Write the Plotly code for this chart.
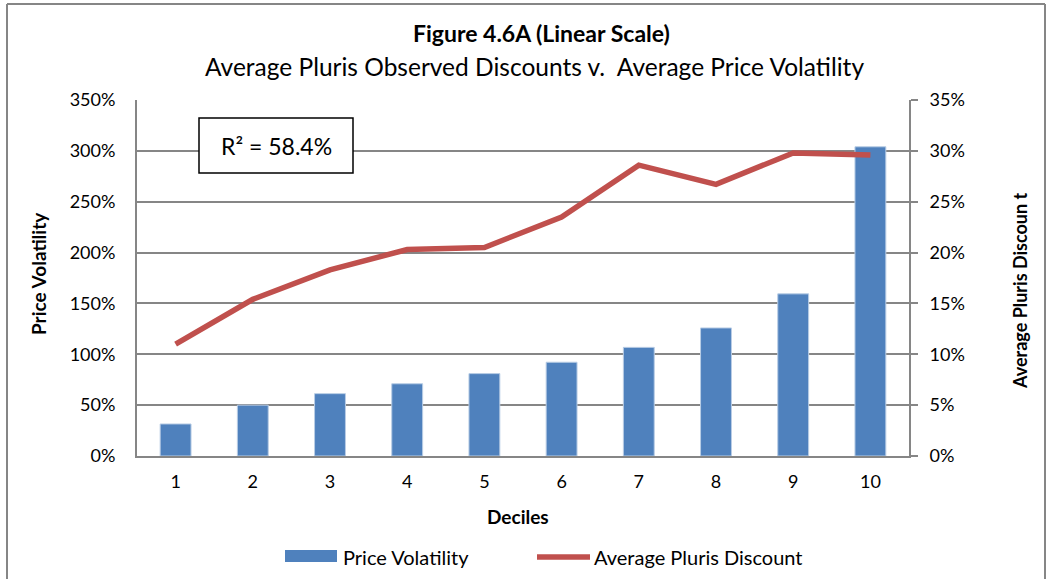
import plotly.graph_objects as go

deciles = ["1", "2", "3", "4", "5", "6", "7", "8", "9", "10"]
price_volatility = [0.315, 0.50, 0.613, 0.71, 0.81, 0.922, 1.068, 1.259, 1.594, 3.04]
avg_discount = [0.110, 0.154, 0.183, 0.203, 0.205, 0.235, 0.286, 0.267, 0.298, 0.296]
left_ticks = [0, 0.5, 1.0, 1.5, 2.0, 2.5, 3.0, 3.5]
right_ticks = [0, 0.05, 0.10, 0.15, 0.20, 0.25, 0.30, 0.35]

FONT = "Lato"
GRID = "#868686"
BLUE = "#4F81BD"
RED = "#C0504D"

W, H = 1051, 579
L, R, T, B = 137, 909, 100, 456
pw, ph = R - L, B - T

def px(x):
    return (x - L) / pw

def py(y):
    return (B - y) / ph

TICK = 18

fig = go.Figure()
fig.add_trace(go.Bar(
    x=deciles, y=price_volatility, name="Price Volatility",
    marker=dict(color=BLUE, line=dict(color="#B9CDE5", width=1)),
    yaxis="y", showlegend=False,
))
fig.add_trace(go.Scatter(
    x=deciles, y=avg_discount, name="Average Pluris Discount",
    mode="lines", line=dict(color=RED, width=5.5),
    yaxis="y2", showlegend=False,
))

fig.update_layout(
    width=W, height=H,
    margin=dict(l=L, r=W - R, t=T, b=H - B, autoexpand=False),
    paper_bgcolor="white", plot_bgcolor="white",
    font=dict(family=FONT, size=TICK, color="#000000"),
    bargap=0.6,
    showlegend=False,
    xaxis=dict(
        type="category", showgrid=False, showline=True, linecolor=GRID, linewidth=2,
        ticks="", tickfont=dict(size=TICK), ticklabelstandoff=8, automargin=False,
    ),
    yaxis=dict(
        range=[0, 3.5], tickvals=left_ticks, tickformat=".0%",
        showgrid=True, gridcolor=GRID, gridwidth=1.5,
        showline=True, linecolor=GRID, linewidth=2, ticks="",
        tickfont=dict(size=TICK), zeroline=False, automargin=False,
        ticklabelstandoff=16,
    ),
    yaxis2=dict(
        range=[0, 0.35], tickvals=right_ticks, tickformat=".0%",
        overlaying="y", side="right", showgrid=False,
        showline=True, linecolor=GRID, linewidth=2,
        ticks="outside", ticklen=7, tickcolor=GRID, tickwidth=2,
        tickfont=dict(size=TICK), zeroline=False, automargin=False,
        ticklabelstandoff=8,
    ),
    shapes=[
        # chart-area border (left, top, right edges)
        dict(type="line", xref="paper", yref="paper",
             x0=px(7), x1=px(7), y0=py(4), y1=py(579),
             line=dict(color=GRID, width=2)),
        dict(type="line", xref="paper", yref="paper",
             x0=px(7), x1=px(1045), y0=py(4), y1=py(4),
             line=dict(color=GRID, width=2)),
        dict(type="line", xref="paper", yref="paper",
             x0=px(1045), x1=px(1045), y0=py(4), y1=py(579),
             line=dict(color=GRID, width=2)),
        dict(type="rect", xref="paper", yref="paper",
             x0=px(199), x1=px(353), y0=py(173), y1=py(118),
             line=dict(color="#000000", width=1.5), fillcolor="white", layer="above"),
        # legend keys
        dict(type="rect", xref="paper", yref="paper",
             x0=px(285), x1=px(337), y0=py(562), y1=py(550),
             line=dict(width=0), fillcolor=BLUE),
        dict(type="line", xref="paper", yref="paper",
             x0=px(537), x1=px(590), y0=py(557), y1=py(557),
             line=dict(color=RED, width=5.5)),
    ],
    annotations=[
        dict(text="<b>Figure 4.6A (Linear Scale)</b>", xref="paper", yref="paper",
             x=px(541), y=py(33), xanchor="center", yanchor="middle", showarrow=False,
             font=dict(size=23)),
        dict(text="Average Pluris Observed Discounts v.  Average Price Volatility", xref="paper", yref="paper",
             x=px(534), y=py(67), xanchor="center", yanchor="middle", showarrow=False,
             font=dict(size=24.5)),
        dict(text="R² = 58.4%", xref="paper", yref="paper",
             x=px(276), y=py(146), xanchor="center", yanchor="middle", showarrow=False,
             font=dict(size=23)),
        dict(text="<b>Price Volatility</b>", xref="paper", yref="paper",
             x=px(38), y=py(273), xanchor="center", yanchor="middle", showarrow=False,
             textangle=-90, font=dict(size=19)),
        dict(text="<b>Average Pluris Discoun t</b>", xref="paper", yref="paper",
             x=px(1020), y=py(291), xanchor="center", yanchor="middle", showarrow=False,
             textangle=-90, font=dict(size=18)),
        dict(text="<b>Deciles</b>", xref="paper", yref="paper",
             x=px(518), y=py(516), xanchor="center", yanchor="middle", showarrow=False,
             font=dict(size=19)),
        dict(text="Price Volatility", xref="paper", yref="paper",
             x=px(341), y=py(557), xanchor="left", yanchor="middle", showarrow=False,
             font=dict(size=20)),
        dict(text="Average Pluris Discount", xref="paper", yref="paper",
             x=px(592), y=py(557), xanchor="left", yanchor="middle", showarrow=False,
             font=dict(size=20)),
    ],
)

fig.write_html(
    "out.html",
    config={"displayModeBar": False},
    post_script="document.body.style.margin='0';document.body.style.overflow='hidden';",
)
